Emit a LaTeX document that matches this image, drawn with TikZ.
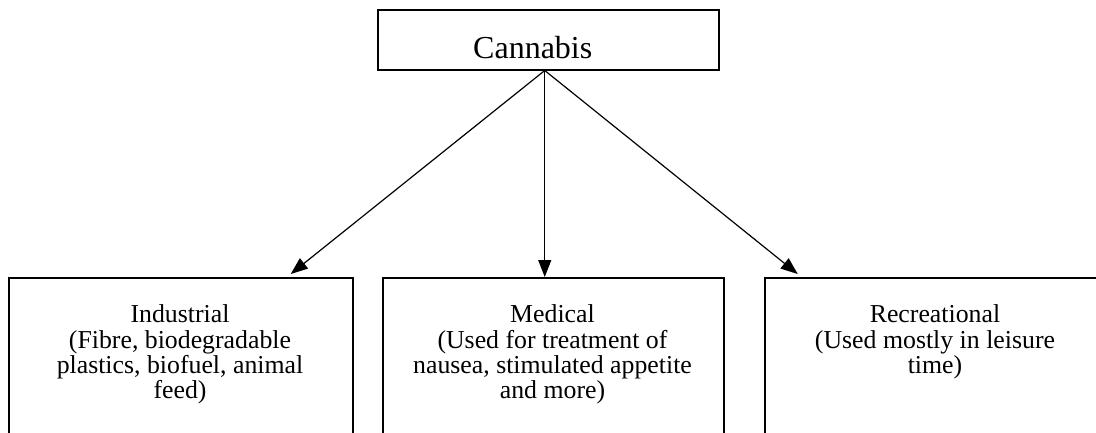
\documentclass[tikz,border=0pt]{standalone}
\usepackage{fontspec}
\setmainfont{Liberation Serif}
\usetikzlibrary{arrows.meta}
\begin{document}
\begin{tikzpicture}[x=1pt,y=-1pt,
  boxshape/.style={draw=black,line width=1.5pt,rectangle,inner sep=0pt,anchor=north west},
  bodytext/.style={font=\fontsize{25.8}{25}\selectfont,align=center,anchor=north,inner sep=0pt},
  titletext/.style={font=\fontsize{32}{36}\selectfont,anchor=base west,inner sep=0pt},
  link/.style={draw=black,line width=1.2pt,-{Triangle[length=17pt,width=13pt]}}]
\useasboundingbox (0,0) rectangle (1096,432);
\node[boxshape,minimum width=341pt,minimum height=60pt] (top) at (377,9) {};
\node[titletext] (toplabel) at (473,58) {Cannabis};
\node[boxshape,minimum width=344pt,minimum height=200pt] (ind) at (8,277) {};
\node[boxshape,minimum width=341pt,minimum height=200pt] (med) at (382,277) {};
\node[boxshape,minimum width=342pt,minimum height=200pt] (rec) at (764,277) {};
\node[bodytext] (indtext) at (180,304) {Industrial\\[1pt](Fibre, biodegradable\\plastics, biofuel, animal\\feed)};
\node[bodytext] (medtext) at (552.5,304) {Medical\\[1pt](Used for treatment of\\nausea, stimulated appetite\\and more)};
\node[bodytext] (rectext) at (935,304) {Recreational\\[1pt](Used mostly in leisure\\time)};
\coordinate (src) at ([xshift=-3.5pt]top.south);
\draw[link] (src) -- ([xshift=110pt,yshift=3pt]ind.north);
\draw[link] (src) -- ([xshift=-8.5pt]med.north);
\draw[link] (src) -- ([xshift=-138pt,yshift=3pt]rec.north);
\end{tikzpicture}
\end{document}
